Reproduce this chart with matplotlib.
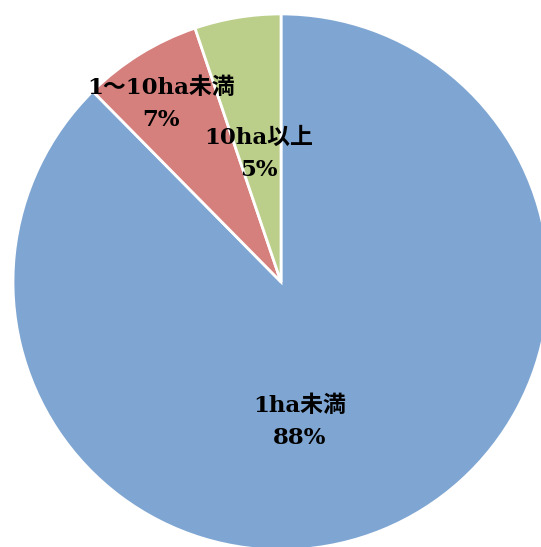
import matplotlib.pyplot as plt

categories = ["1ha未満", "1〜10ha未満", "10ha以上"]
shares = [87.6, 7.2, 5.2]
colors = ["#7FA6D2", "#D5807D", "#BBCF8A"]

fig = plt.figure(figsize=(5.41, 5.47), dpi=100)
ax = fig.add_axes([0, 0, 1, 1])

ax.pie(shares, colors=colors, startangle=90, counterclock=False,
       radius=1.0, wedgeprops=dict(edgecolor="white", linewidth=2))

ax.set_aspect("auto")
ax.set_xlim(-1.0485, 0.970)
ax.set_ylim(-0.989, 1.052)
ax.axis("off")

# label positions (data coords, pie radius = 1)
label_pos = [(0.071, -0.522), (-0.448, 0.664), (-0.082, 0.478)]
font = dict(family=["DejaVu Serif", "Noto Sans CJK JP"], fontweight="bold",
            fontsize=16.5, color="black", ha="center", va="center",
            linespacing=1.55)
for name, v, (x, y) in zip(categories, shares, label_pos):
    ax.text(x, y, f"{name}\n{v:.0f}%", **font)

fig.savefig("out.png", dpi=100)
